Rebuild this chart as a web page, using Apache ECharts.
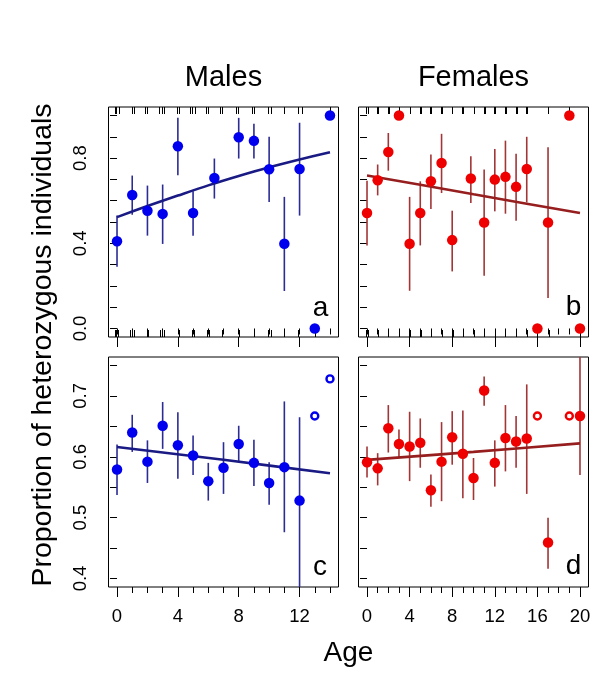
<!DOCTYPE html>
<html><head><meta charset="utf-8">
<script src="https://cdn.jsdelivr.net/npm/echarts@6/dist/echarts.min.js"></script>
<style>html,body{margin:0;padding:0;background:#fff}#c{width:600px;height:696px}</style>
</head><body><div id="c"></div>
<script>
// ---------- Data ----------
// Panel a: males, proportion of heterozygous individuals
const ageMA = [0, 1, 2, 3, 4, 5, 6.4, 8, 9, 10, 11, 12, 13, 14];
const propMA = [0.41, 0.627, 0.553, 0.538, 0.856, 0.542, 0.707, 0.898, 0.881, 0.748, 0.398, 0.749, 0.0, 1.0];
const loMA = [0.29, 0.534, 0.436, 0.397, 0.719, 0.436, 0.61, 0.798, 0.798, 0.594, 0.176, 0.53, null, null];
const hiMA = [0.53, 0.718, 0.671, 0.676, 0.989, 0.644, 0.798, 0.989, 0.961, 0.90, 0.618, 0.966, null, null];
const fitAgeMA = [0, 2, 4, 6, 8, 10, 12, 14];
const fitMA = [0.523, 0.575, 0.624, 0.672, 0.716, 0.757, 0.794, 0.828];
const rugTopMA = [-0.13, -0.04, 0.11, 0.96, 1.09, 1.84, 1.97, 2.78, 2.94, 3.07, 3.92, 4.08, 4.8, 4.95, 5.12, 5.85, 6.0, 6.77, 6.93, 7.82, 7.97, 8.85, 9.0, 9.95, 10.1, 11.0, 11.92, 12.14, 14.0];
const rugBotMA = [-0.13, -0.04, 0.09, 0.85, 1.0, 1.14, 1.95, 2.06, 2.83, 2.98, 3.11, 4.1, 4.95, 5.08, 5.9, 6.05, 6.93, 8.0, 9.0, 9.95, 10.1, 10.98, 11.92, 13.0];

// Panel b: females, proportion of heterozygous individuals
const ageFA = [0, 1, 2, 3, 4, 5, 6, 7, 8, 9.75, 11, 12, 13, 14, 15, 16, 17, 19, 20];
const propFA = [0.542, 0.696, 0.829, 1.0, 0.398, 0.542, 0.691, 0.777, 0.415, 0.704, 0.498, 0.699, 0.712, 0.665, 0.749, 0.0, 0.498, 1.0, 0.0];
const loFA = [0.39, 0.625, 0.741, null, 0.177, 0.39, 0.561, 0.636, 0.268, 0.589, 0.248, 0.55, 0.539, 0.506, 0.592, null, 0.143, null, null];
const hiFA = [0.694, 0.77, 0.918, null, 0.618, 0.691, 0.817, 0.914, 0.553, 0.809, 0.746, 0.843, 0.882, 0.821, 0.90, null, 0.851, null, null];
const fitAgeFA = [0, 5, 10, 15, 20];
const fitFA = [0.718, 0.675, 0.630, 0.586, 0.542];
const rugTopFA = [-0.05, 0.1, 0.95, 1.05, 1.95, 2.05, 3.0, 4.0, 4.95, 5.05, 5.95, 6.05, 6.95, 7.05, 8.0, 8.95, 9.05, 10.0, 10.95, 11.05, 11.95, 12.05, 12.95, 13.05, 13.95, 14.05, 14.95, 15.05, 17.0, 19.0];
const rugBotFA = [-0.05, 0.05, 1.0, 2.0, 3.0, 3.95, 4.05, 4.95, 5.05, 6.0, 7.0, 7.95, 8.05, 9.0, 10.0, 11.0, 12.0, 13.0, 14.0, 15.0, 16.0, 17.1, 20.0];

// Panel c: males, heterozygosity
const ageMH = [0, 1, 2, 3, 4, 5, 6, 7, 8, 9, 10, 11, 12];
const hetMH = [0.579, 0.640, 0.592, 0.651, 0.619, 0.602, 0.560, 0.582, 0.621, 0.590, 0.557, 0.583, 0.528];
const loMH = [0.537, 0.608, 0.557, 0.613, 0.564, 0.570, 0.528, 0.539, 0.591, 0.552, 0.521, 0.476, 0.35];
const hiMH = [0.620, 0.669, 0.627, 0.690, 0.673, 0.635, 0.590, 0.624, 0.651, 0.628, 0.591, 0.691, 0.665];
const openAgeMH = [13, 14];
const openHetMH = [0.667, 0.728];
const fitAgeMH = [0, 7, 14];
const fitMH = [0.616, 0.595, 0.573];

// Panel d: females, heterozygosity
const ageFH = [0, 1, 2, 3, 4, 5, 6, 7, 8, 9, 10, 11, 12, 13, 14, 15, 17, 20];
const hetFH = [0.591, 0.581, 0.647, 0.621, 0.617, 0.623, 0.545, 0.592, 0.632, 0.605, 0.565, 0.709, 0.590, 0.631, 0.625, 0.630, 0.459, 0.667];
const loFH = [0.566, 0.553, 0.607, 0.598, 0.560, 0.582, 0.518, 0.527, 0.587, 0.532, 0.529, 0.684, 0.551, 0.576, 0.582, 0.539, 0.416, 0.570];
const hiFH = [0.617, 0.606, 0.685, 0.645, 0.674, 0.663, 0.571, 0.657, 0.675, 0.676, 0.598, 0.732, 0.627, 0.685, 0.667, 0.719, 0.500, 0.80];
const openAgeFH = [16, 19];
const openHetFH = [0.667, 0.667];
const fitAgeFH = [0, 10, 20];
const fitFH = [0.595, 0.608, 0.622];

// Axis ticks / labels
const ticksMaleAge = [0,1,2,3,4,5,6,7,8,9,10,11,12,13,14];
const ticksFemaleAge = [0,1,2,3,4,5,6,7,8,9,10,11,12,13,14,15,16,17,18,19,20];
const labelsMaleAge = [0, 4, 8, 12];
const labelsFemaleAge = [0, 4, 8, 12, 16, 20];
const ticksProp = [0, 0.1, 0.2, 0.3, 0.4, 0.5, 0.6, 0.7, 0.8, 0.9, 1.0];
const labelsProp = [0, 0.4, 0.8];
const ticksHet = [0.4, 0.45, 0.5, 0.55, 0.6, 0.65, 0.7, 0.75];
const labelsHet = [0.4, 0.5, 0.6, 0.7];

// ---------- Styles ----------
const FONT = "'Liberation Sans', Arial, sans-serif";
const BLUE = '#0000ee', BLUE_BAR = '#2c2c95', BLUE_LINE = '#1a1a85';
const RED = '#ee0000', RED_BAR = '#a23535', RED_LINE = '#961e1e';

const panels = [
  {grid:{left:108.5, top:107, width:230, height:230}, xr:[-0.56,14.56], yr:[-0.04,1.04], xt:ticksMaleAge, xl:labelsMaleAge, yt:ticksProp, yl:labelsProp, showX:false, showY:true},
  {grid:{left:358.5, top:107, width:230, height:230}, xr:[-0.8,20.8], yr:[-0.04,1.04], xt:ticksFemaleAge, xl:labelsFemaleAge, yt:ticksProp, yl:labelsProp, showX:false, showY:false},
  {grid:{left:108.5, top:357, width:230, height:230}, xr:[-0.56,14.56], yr:[0.386,0.764], xt:ticksMaleAge, xl:labelsMaleAge, yt:ticksHet, yl:labelsHet, showX:true, showY:true},
  {grid:{left:358.5, top:357, width:230, height:230}, xr:[-0.8,20.8], yr:[0.386,0.764], xt:ticksFemaleAge, xl:labelsFemaleAge, yt:ticksHet, yl:labelsHet, showX:true, showY:false}
];

const grid = [], xAxis = [], yAxis = [];
panels.forEach((p, i) => {
  grid.push(Object.assign({show:true, borderColor:'#000', borderWidth:1, backgroundColor:'transparent', containLabel:false}, p.grid));
  xAxis.push({gridIndex:i, type:'value', min:p.xr[0], max:p.xr[1], position:'bottom',
    axisLine:{show:false}, splitLine:{show:false},
    axisTick:{show:true, customValues:p.xt, length:6, lineStyle:{color:'#000', width:1}},
    axisLabel:{show:p.showX, customValues:p.xl, margin:20, fontSize:18.5, color:'#000', fontFamily:FONT}});
  xAxis.push({gridIndex:i, type:'value', min:p.xr[0], max:p.xr[1], position:'bottom',
    axisLine:{show:false}, splitLine:{show:false},
    axisTick:{show:true, customValues:p.xl, length:10, lineStyle:{color:'#000', width:1}},
    axisLabel:{show:false}});
  yAxis.push({gridIndex:i, type:'value', min:p.yr[0], max:p.yr[1],
    axisLine:{show:false}, splitLine:{show:false},
    axisTick:{show:true, customValues:p.yt, length:7, lineStyle:{color:'#000', width:1}},
    axisLabel:{show:p.showY, customValues:p.yl, rotate:90, margin:18, fontSize:18.5, color:'#000', fontFamily:FONT,
      formatter: v => Number(v).toFixed(1)}});
});

function errSeries(i, ages, lo, hi, color) {
  const data = [];
  ages.forEach((a, k) => { if (lo[k] != null) data.push([a, lo[k], hi[k]]); });
  return {type:'custom', xAxisIndex:2*i, yAxisIndex:i, clip:true, z:2, data,
    encode:{x:0, y:[1,2]},
    renderItem: (params, api) => {
      const x = api.value(0);
      const a = api.coord([x, api.value(1)]);
      const b = api.coord([x, api.value(2)]);
      return {type:'line', shape:{x1:a[0], y1:a[1], x2:b[0], y2:b[1]}, style:{stroke:color, lineWidth:1.6}};
    }};
}
function fitSeries(i, ages, vals, color) {
  return {type:'line', xAxisIndex:2*i, yAxisIndex:i, z:3, symbol:'none', smooth:0.3,
    data: ages.map((a,k)=>[a, vals[k]]), lineStyle:{color, width:2.6}};
}
function ptSeries(i, ages, vals, color) {
  return {type:'scatter', xAxisIndex:2*i, yAxisIndex:i, z:4, symbol:'circle', symbolSize:10.5,
    data: ages.map((a,k)=>[a, vals[k]]), itemStyle:{color, opacity:1}};
}
function openSeries(i, ages, vals, color) {
  return {type:'scatter', xAxisIndex:2*i, yAxisIndex:i, z:4, symbol:'circle', symbolSize:7,
    data: ages.map((a,k)=>[a, vals[k]]), itemStyle:{color:'#fff', borderColor:color, borderWidth:2.4, opacity:1}};
}
function rugSeries(i, xs, edge, dir) {
  return {type:'custom', xAxisIndex:2*i, yAxisIndex:i, z:1, data: xs.map(x=>[x, edge]),
    encode:{x:0, y:1},
    renderItem: (params, api) => {
      const p = api.coord([api.value(0), api.value(1)]);
      const xx = Math.round(p[0]) + 0.5;
      return {type:'line', shape:{x1:xx, y1:p[1], x2:xx, y2:p[1] + dir*7}, style:{stroke:'#000', lineWidth:1}};
    }};
}

const series = [
  rugSeries(0, rugTopMA, 1.04, 1), rugSeries(0, rugBotMA, -0.04, -1),
  errSeries(0, ageMA, loMA, hiMA, BLUE_BAR), fitSeries(0, fitAgeMA, fitMA, BLUE_LINE), ptSeries(0, ageMA, propMA, BLUE),
  rugSeries(1, rugTopFA, 1.04, 1), rugSeries(1, rugBotFA, -0.04, -1),
  errSeries(1, ageFA, loFA, hiFA, RED_BAR), fitSeries(1, fitAgeFA, fitFA, RED_LINE), ptSeries(1, ageFA, propFA, RED),
  errSeries(2, ageMH, loMH, hiMH, BLUE_BAR), fitSeries(2, fitAgeMH, fitMH, BLUE_LINE), ptSeries(2, ageMH, hetMH, BLUE), openSeries(2, openAgeMH, openHetMH, BLUE),
  errSeries(3, ageFH, loFH, hiFH, RED_BAR), fitSeries(3, fitAgeFH, fitFH, RED_LINE), ptSeries(3, ageFH, hetFH, RED), openSeries(3, openAgeFH, openHetFH, RED)
];

function txt(text, x, y, size, rot) {
  return {type:'text', x, y, rotation: rot || 0, z:10,
    style:{text, fontSize:size, fontFamily:FONT, fill:'#000', align:'center', verticalAlign:'middle'}};
}
const graphic = [
  txt('Males', 223.5, 78, 29), txt('Females', 473.5, 78, 29),
  txt('Proportion of heterozygous individuals', 43, 345, 28.5, Math.PI/2),
  txt('Age', 348.5, 653, 28),
  txt('a', 320.5, 308, 28), txt('b', 573.5, 307, 28),
  txt('c', 320, 567, 28), txt('d', 573.5, 566, 28)
];

const chart = echarts.init(document.getElementById('c'), null, {renderer:'canvas'});
chart.setOption({animation:false, backgroundColor:'#fff', grid, xAxis, yAxis, series, graphic});
</script></body></html>
